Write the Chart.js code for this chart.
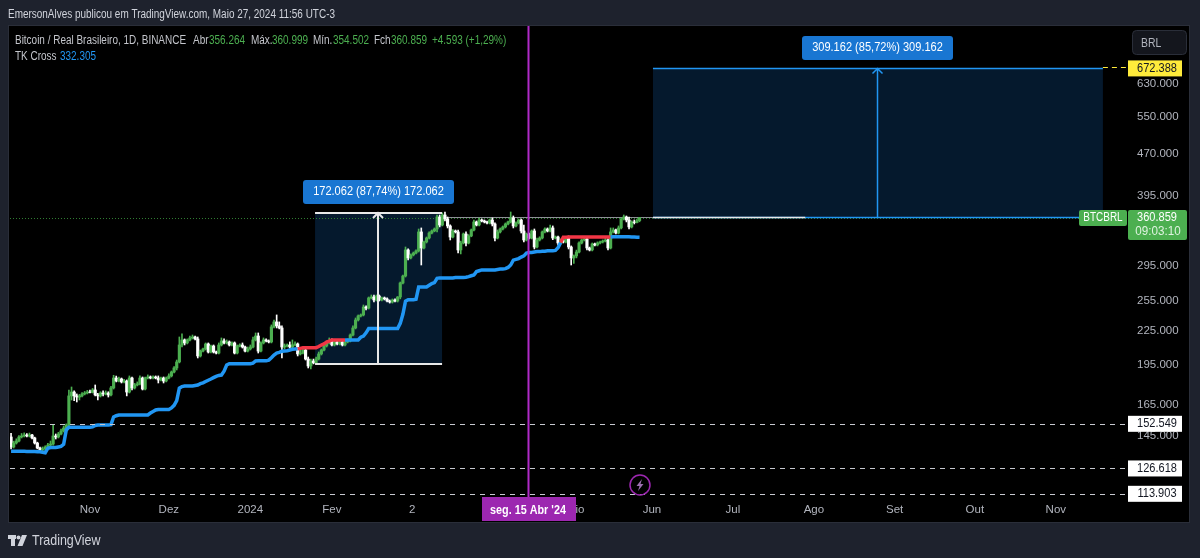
<!DOCTYPE html>
<html>
<head>
<meta charset="utf-8">
<title>BTCBRL</title>
<style>
html, body { margin: 0; padding: 0; background: #1e222d; overflow: hidden; }
</style>
<script src="https://cdn.jsdelivr.net/npm/chart.js@4"></script>
</head>
<body>
<canvas id="btcChart" width="1200" height="558"></canvas>
<script>
// prices in thousands of BRL, one bar per day
var opens = [
    144.4,138.5,140.8,142.0,144.4,145.0,145.6,145.0,145.6,143.8,
    140.8,137.9,136.8,137.4,138.5,139.6,140.2,145.0,144.4,146.2,
    148.1,149.9,151.8,171.4,174.2,171.4,170.6,171.4,172.8,173.5,
    174.2,174.0,175.7,172.1,171.4,173.5,172.8,173.5,172.1,177.2,
    184.7,182.4,184.0,181.7,182.4,174.2,184.7,177.2,179.4,180.2,
    184.7,176.4,184.7,185.5,184.7,185.5,184.7,183.2,184.7,182.4,
    184.7,186.3,189.4,192.6,197.5,212.0,216.5,213.8,216.5,218.3,
    219.2,217.4,202.5,206.7,208.5,212.9,205.9,211.1,205.9,205.0,
    212.0,215.6,213.8,214.7,212.0,213.8,205.0,211.1,212.0,210.2,
    206.7,208.5,210.2,216.5,220.1,206.7,213.8,216.5,215.6,214.7,
    228.6,233.4,229.6,227.6,210.2,211.1,212.0,210.2,212.0,212.9,
    204.2,205.0,207.6,199.9,194.2,198.3,196.7,199.9,204.2,207.6,
    211.1,213.8,215.6,212.0,214.7,212.9,214.7,212.0,214.7,215.6,
    221.0,227.6,235.3,239.3,240.3,248.4,247.3,258.0,259.0,255.8,
    260.1,255.8,258.0,256.9,254.7,253.6,255.8,254.7,259.0,274.6,
    282.7,315.2,304.9,308.7,311.2,313.9,339.8,317.8,325.9,331.3,
    338.3,341.2,344.0,361.7,349.8,364.7,358.7,348.4,332.7,341.2,
    339.8,315.2,324.5,336.9,324.5,334.1,342.6,354.3,349.8,357.2,
    355.7,354.3,352.8,357.2,351.3,331.3,339.8,344.0,347.0,351.3,
    354.3,360.2,348.4,352.8,357.2,341.2,328.6,336.9,331.3,341.2,
    319.1,328.6,331.3,339.8,344.0,341.2,345.5,331.3,332.7,324.5,
    328.6,325.9,331.3,319.1,304.9,307.4,312.5,324.5,328.6,330.0,
    317.8,315.2,323.2,321.8,324.5,325.9,327.2,328.6,317.8,339.8,
    342.6,338.3,345.5,358.7,361.7,357.2,347.0,354.3,353.5,356.264
]
var closes = [
    138.5,140.8,142.0,144.4,145.0,145.6,145.0,145.6,143.8,140.8,
    137.9,136.8,137.4,138.5,139.6,140.2,145.0,144.4,146.2,148.1,
    149.9,151.8,171.4,174.2,171.4,170.6,171.4,172.8,173.5,174.2,
    174.0,175.7,172.1,171.4,173.5,172.8,173.5,172.1,177.2,184.7,
    182.4,184.0,181.7,182.4,174.2,184.7,177.2,179.4,180.2,184.7,
    176.4,184.7,185.5,184.7,185.5,184.7,183.2,184.7,182.4,184.7,
    186.3,189.4,192.6,197.5,212.0,216.5,213.8,216.5,218.3,219.2,
    217.4,202.5,206.7,208.5,212.9,205.9,211.1,205.9,205.0,212.0,
    215.6,213.8,214.7,212.0,213.8,205.0,211.1,212.0,210.2,206.7,
    208.5,210.2,216.5,220.1,206.7,213.8,216.5,215.6,214.7,228.6,
    233.4,229.6,227.6,210.2,211.1,212.0,210.2,212.0,212.9,204.2,
    205.0,207.6,199.9,194.2,198.3,196.7,199.9,204.2,207.6,211.1,
    213.8,215.6,212.0,214.7,212.9,214.7,212.0,214.7,215.6,221.0,
    227.6,235.3,239.3,240.3,248.4,247.3,258.0,259.0,255.8,260.1,
    255.8,258.0,256.9,254.7,253.6,255.8,254.7,259.0,274.6,282.7,
    315.2,304.9,308.7,311.2,313.9,339.8,317.8,325.9,331.3,338.3,
    341.2,344.0,361.7,349.8,364.7,358.7,348.4,332.7,341.2,339.8,
    315.2,324.5,336.9,324.5,334.1,342.6,354.3,349.8,357.2,355.7,
    354.3,352.8,357.2,351.3,331.3,339.8,344.0,347.0,351.3,354.3,
    360.2,348.4,352.8,357.2,341.2,328.6,336.9,331.3,341.2,319.1,
    328.6,331.3,339.8,344.0,341.2,345.5,331.3,332.7,324.5,328.6,
    325.9,331.3,319.1,304.9,307.4,312.5,324.5,328.6,330.0,317.8,
    315.2,323.2,321.8,324.5,325.9,327.2,328.6,317.8,339.8,342.6,
    338.3,345.5,358.7,361.7,357.2,347.0,354.3,353.5,356.264,360.859
]
var highs = [
    146.6,141.9,143.3,145.2,146.5,146.9,146.4,146.8,146.0,144.3,
    141.3,138.5,138.5,139.2,140.6,142.0,151.8,146.2,147.2,149.3,
    151.2,152.5,175.7,177.9,175.0,172.8,172.5,173.8,174.6,175.4,
    175.6,176.8,179.4,173.2,174.4,175.0,175.0,174.4,178.4,186.8,
    186.2,185.5,184.7,183.6,183.2,186.3,185.5,180.6,181.7,186.3,
    185.5,185.5,187.1,186.3,186.3,186.3,186.3,185.5,185.5,185.5,
    187.9,190.2,193.8,199.1,219.2,222.0,217.4,217.4,220.1,221.0,
    220.1,219.2,207.6,209.3,213.8,213.8,212.0,212.0,206.7,213.8,
    218.3,217.4,216.5,215.6,214.7,214.7,212.0,212.9,213.8,211.1,
    210.2,212.0,219.2,222.9,222.9,214.7,218.3,217.4,216.5,230.5,
    235.3,240.3,233.4,229.6,212.9,212.9,214.7,216.5,214.7,213.8,
    207.6,208.5,208.5,201.6,199.9,199.9,201.6,205.9,208.5,212.0,
    215.6,218.3,217.4,215.6,216.5,216.5,215.6,216.5,217.4,222.0,
    229.6,237.3,240.3,241.3,250.5,249.5,259.0,261.2,261.2,261.2,
    261.2,259.0,259.0,258.0,255.8,256.9,256.9,259.5,275.7,283.9,
    319.1,316.5,310.0,312.5,315.2,344.0,345.5,327.2,332.7,340.0,
    342.6,345.5,364.7,364.7,367.8,369.3,361.7,350.0,343.0,342.6,
    342.6,327.0,338.3,339.8,336.0,344.0,357.2,355.7,360.2,358.7,
    357.2,355.7,358.7,360.2,352.8,342.6,345.5,348.4,352.8,355.7,
    369.3,363.2,354.3,358.7,358.7,349.8,338.3,338.3,342.6,344.0,
    331.3,333.0,341.2,345.5,345.5,349.8,348.4,334.1,334.1,330.0,
    330.0,333.0,334.1,320.5,308.7,315.0,326.0,330.0,333.0,333.0,
    319.0,324.5,324.5,326.0,327.2,328.6,331.3,330.0,345.5,345.5,
    344.0,348.4,360.2,364.7,363.2,361.7,356.0,357.2,358.7,360.999
]
var lows = [
    137.4,137.9,140.2,141.4,143.8,144.4,144.4,144.4,143.2,140.2,
    137.4,135.6,136.2,136.8,137.9,139.1,139.6,143.2,143.8,145.6,
    147.4,149.3,151.2,168.5,168.0,167.1,168.5,170.6,172.1,172.8,
    173.5,173.5,171.4,168.5,170.6,171.4,172.1,170.6,171.4,176.4,
    181.7,181.7,180.9,180.9,171.4,173.5,175.7,176.4,178.7,179.4,
    175.7,175.7,184.0,184.0,184.0,184.0,180.9,182.4,180.9,181.7,
    184.0,185.5,188.6,191.0,196.7,210.2,212.0,212.9,215.6,217.4,
    216.5,200.8,201.6,205.9,207.6,205.0,205.0,205.0,204.2,204.2,
    211.1,212.9,212.9,211.1,211.1,204.2,204.2,210.2,209.3,205.9,
    205.9,207.6,209.3,215.6,205.0,205.9,212.9,214.7,213.8,213.8,
    227.6,227.6,226.7,200.8,208.5,210.2,209.3,209.3,211.1,202.5,
    203.3,204.2,199.1,192.6,191.8,195.9,195.9,199.1,203.3,206.7,
    210.2,212.9,211.1,211.1,212.0,212.0,211.1,211.1,213.8,214.7,
    220.1,226.7,234.3,238.3,239.3,245.3,246.3,257.0,253.6,254.7,
    254.7,254.7,255.8,253.6,252.5,252.5,253.6,253.6,257.0,273.4,
    281.5,302.3,303.6,307.4,310.0,312.5,296.0,316.5,324.5,330.0,
    337.0,340.0,339.8,347.0,348.4,355.7,345.5,328.6,331.3,338.3,
    311.2,310.0,323.2,320.5,323.2,333.0,341.2,348.4,348.4,354.3,
    352.8,351.3,351.3,348.4,327.2,330.0,338.3,342.6,345.5,349.8,
    352.8,345.5,347.0,351.3,338.3,325.9,327.2,330.0,330.0,316.5,
    317.8,327.2,330.0,338.3,339.8,339.8,329.0,330.0,321.8,323.2,
    324.5,324.5,316.5,296.0,298.0,304.9,311.2,323.2,327.2,315.2,
    313.9,313.9,320.5,320.5,323.2,324.5,325.9,315.2,316.5,338.3,
    336.9,337.0,344.0,357.2,354.3,344.0,345.5,351.3,352.8,354.502
]
var tkCross = [
    136.0,136.0,136.0,136.0,136.0,136.0,135.9,135.9,135.9,135.9,
    135.8,135.8,135.5,135.2,137.8,138.2,138.2,138.2,138.5,138.8,
    140.0,148.7,150.4,150.4,150.4,150.4,150.4,150.4,150.4,150.4,
    150.4,150.6,151.5,151.8,151.8,151.8,151.8,151.8,152.0,157.0,
    157.8,158.3,158.3,158.3,158.3,158.3,158.3,158.3,158.3,158.3,
    158.3,158.3,158.3,159.6,160.6,161.6,162.0,162.0,162.0,162.0,
    162.0,163.0,164.8,168.0,177.0,178.2,178.6,178.6,178.6,178.6,
    179.0,179.4,180.4,181.0,182.0,183.0,183.9,185.0,186.0,186.7,
    187.0,190.0,195.0,196.0,196.0,196.0,196.0,196.0,196.0,196.0,
    196.0,196.0,196.5,198.3,198.4,198.4,198.4,198.4,199.0,201.0,
    203.3,205.0,205.5,206.5,206.8,207.0,207.6,208.2,208.4,208.6,
    209.0,209.6,209.6,209.6,209.6,209.6,209.6,210.6,212.0,213.0,
    214.6,215.5,216.5,216.5,216.5,216.5,216.5,216.5,216.5,216.5,
    216.5,216.5,216.5,219.0,220.0,223.0,227.0,227.0,227.0,227.0,
    227.0,227.0,227.0,227.0,227.0,227.0,227.0,227.0,232.0,241.0,
    254.5,256.0,256.0,256.0,256.5,270.0,270.0,270.0,270.0,272.0,
    274.0,275.0,280.0,280.5,280.5,280.5,280.5,280.5,280.5,281.0,
    281.0,281.0,281.0,281.2,282.0,283.0,283.9,288.0,289.0,290.0,
    290.0,290.0,290.0,290.0,290.0,290.5,291.0,291.0,291.5,293.0,
    296.0,302.0,303.0,304.0,306.0,307.5,311.0,312.0,312.0,312.5,
    313.0,313.0,313.5,313.5,314.0,314.0,314.0,314.5,318.0,325.0,
    332.5,332.5,332.7,332.7,332.7,332.7,332.7,332.7,332.7,332.7,
    332.7,332.7,332.7,332.7,332.7,332.7,332.7,332.7,332.8,333.0,
    333.0,333.0,333.0,333.0,333.0,333.0,332.8,332.6,332.4,332.305
]
// days where the TK line turns red
var tkRedSpans = [[109, 127], [209, 228]]

var priceTicks = [630, 550, 470, 395, 295, 255, 225, 195, 165, 145]
var timeTicks = [30, 60, 91, 122, 152.5, 213.3, 243.7, 274.5, 305.3, 336, 366.5, 397.3]
var timeLabels = ['Nov', 'Dez', '2024', 'Fev', '2', 'Maio', 'Jun', 'Jul', 'Ago', 'Set', 'Out', 'Nov']

var dashedLevels = [152.549, 126.618, 113.903]
var lastPrice = 360.859
var targetPrice = 672.388
var crosshairDay = 196.7
// measure boxes: first day, last day, low, high
var pastBox = [115.6, 163.9, 195.9, 367.8]
var futureBox = [244.1, 415.2, 361.8, 672.388]
var whiteRayEndDay = 302

var GREEN = '#4caf50'
var WHITE = '#ffffff'
var BLUE = '#2196f3'
var PURPLE = '#9c27b0'
var FONT = '"Liberation Sans", sans-serif'
var NARROW = 0.83

var days = closes.map(function (c, i) { return i })

function isRed(day) {
    return tkRedSpans.some(function (s) { return day >= s[0] && day < s[1] })
}

// the reference face is condensed, so squeeze the text horizontally
function label(ctx, text, x, y, color, align, sx, font) {
    ctx.save()
    ctx.translate(x, y)
    ctx.scale(sx || NARROW, 1)
    ctx.fillStyle = color
    ctx.textAlign = align || 'left'
    ctx.textBaseline = 'middle'
    ctx.font = font || '12px ' + FONT
    ctx.fillText(text, 0, 0)
    ctx.restore()
}

function hline(ctx, x0, x1, y, color, width, dash) {
    ctx.save()
    ctx.strokeStyle = color
    ctx.lineWidth = width
    ctx.setLineDash(dash || [])
    ctx.beginPath()
    ctx.moveTo(x0, y)
    ctx.lineTo(x1, y)
    ctx.stroke()
    ctx.restore()
}

function roundBox(ctx, x, y, w, h, r, fill) {
    ctx.fillStyle = fill
    ctx.beginPath()
    ctx.roundRect(x, y, w, h, r)
    ctx.fill()
}

function measureLines(chart, box, color, width) {
    var ctx = chart.ctx, xs = chart.scales.x, ys = chart.scales.y
    var snap = width % 2 ? 0.5 : 0
    var x0 = xs.getPixelForValue(box[0]), x1 = xs.getPixelForValue(box[1])
    var yLow = Math.round(ys.getPixelForValue(box[2])) + snap
    var yHigh = Math.round(ys.getPixelForValue(box[3])) + snap
    var mid = Math.floor((x0 + x1) / 2) + snap
    hline(ctx, x0, x1, yLow, color, width)
    hline(ctx, x0, x1, yHigh, color, width)
    ctx.strokeStyle = color
    ctx.lineWidth = width
    ctx.beginPath()
    ctx.moveTo(mid, yLow)
    ctx.lineTo(mid, yHigh)
    ctx.moveTo(mid - 5, yHigh + 5)
    ctx.lineTo(mid, yHigh)
    ctx.lineTo(mid + 5, yHigh + 5)
    ctx.stroke()
}

var tradingViewDecor = {
    id: 'tradingViewDecor',
    beforeDraw: function (chart) {
        var ctx = chart.ctx
        ctx.fillStyle = '#1e222d'
        ctx.fillRect(0, 0, 1200, 558)
        ctx.fillStyle = '#000000'
        ctx.fillRect(9, 26, 1180, 496)
        ctx.strokeStyle = '#2a2e39'
        ctx.lineWidth = 1
        ctx.strokeRect(8.5, 25.5, 1181, 497)
    },
    beforeDatasetsDraw: function (chart) {
        var ctx = chart.ctx, xs = chart.scales.x, ys = chart.scales.y
        ctx.fillStyle = '#05192d'
        ;[pastBox, futureBox].forEach(function (b) {
            var x0 = xs.getPixelForValue(b[0]), x1 = xs.getPixelForValue(b[1])
            var y1 = ys.getPixelForValue(b[3]), y0 = ys.getPixelForValue(b[2])
            ctx.fillRect(x0, y1, x1 - x0, y0 - y1)
        })
        // last price line and the ray from the previous high
        var rayY = Math.round(ys.getPixelForValue(futureBox[2])) + 0.5
        hline(ctx, xs.getPixelForValue(pastBox[1]), xs.getPixelForValue(futureBox[0]), rayY, '#8d8f96', 1)
        var lastY = rayY + 1
        hline(ctx, 10, 1080, lastY, '#2f7d32', 1, [1, 2])
    },
    afterDatasetsDraw: function (chart) {
        var ctx = chart.ctx, xs = chart.scales.x, ys = chart.scales.y
        measureLines(chart, pastBox, '#e8e8e8', 2)
        measureLines(chart, futureBox, BLUE, 1.5)
        var rayY = Math.round(ys.getPixelForValue(futureBox[2])) + 0.5
        hline(ctx, xs.getPixelForValue(futureBox[0]), xs.getPixelForValue(whiteRayEndDay), rayY, '#e8e8e8', 1.5)
        dashedLevels.forEach(function (v) {
            var y = Math.round(ys.getPixelForValue(v)) + 0.5
            hline(ctx, 10, 1128, y, '#c8cad0', 1, [5, 5])
        })
        var ty = Math.round(ys.getPixelForValue(targetPrice)) - 0.5
        hline(ctx, xs.getPixelForValue(futureBox[1]), 1128, ty, '#ffeb3b', 1, [5, 4])
        // crosshair
        var cx = Math.round(xs.getPixelForValue(crosshairDay)) + 0.5
        ctx.strokeStyle = '#b02ac8'
        ctx.lineWidth = 2
        ctx.beginPath()
        ctx.moveTo(cx, 26)
        ctx.lineTo(cx, 498)
        ctx.stroke()
        // lightning badge
        ctx.strokeStyle = '#9c27b0'
        ctx.lineWidth = 1.5
        ctx.beginPath()
        ctx.arc(640, 485, 10, 0, Math.PI * 2)
        ctx.stroke()
        ctx.fillStyle = '#9c6fb0'
        ctx.beginPath()
        ctx.moveTo(642, 479)
        ctx.lineTo(636.5, 486)
        ctx.lineTo(639.5, 486)
        ctx.lineTo(638, 491)
        ctx.lineTo(643.5, 484)
        ctx.lineTo(640.5, 484)
        ctx.closePath()
        ctx.fill()
    },
    afterDraw: function (chart) {
        var ctx = chart.ctx, ys = chart.scales.y
        // top title and legend
        label(ctx, 'EmersonAlves publicou em TradingView.com, Maio 27, 2024 11:56 UTC-3', 8, 14.5, '#d1d4dc')
        label(ctx, 'Bitcoin / Real Brasileiro, 1D, BINANCE', 15, 40.5, '#c4c6cc')
        label(ctx, 'Abr', 193, 40.5, '#c4c6cc')
        label(ctx, '356.264', 209, 40.5, GREEN)
        label(ctx, 'Máx.', 251, 40.5, '#c4c6cc')
        label(ctx, '360.999', 272, 40.5, GREEN)
        label(ctx, 'Mín.', 313, 40.5, '#c4c6cc')
        label(ctx, '354.502', 333, 40.5, GREEN)
        label(ctx, 'Fch', 374, 40.5, '#c4c6cc')
        label(ctx, '360.859', 391, 40.5, GREEN)
        label(ctx, '+4.593 (+1,29%)', 432, 40.5, GREEN)
        label(ctx, 'TK Cross', 15, 57, '#c4c6cc')
        label(ctx, '332.305', 60, 57, BLUE)
        // measure captions
        roundBox(ctx, 303, 180, 151, 24, 3, '#1976d2')
        label(ctx, '172.062 (87,74%) 172.062', 378.5, 192, WHITE, 'center', 0.92)
        roundBox(ctx, 802, 36, 151, 24, 3, '#1976d2')
        label(ctx, '309.162 (85,72%) 309.162', 877.5, 48, WHITE, 'center', 0.92)
        // BRL button
        ctx.fillStyle = '#14161d'
        ctx.strokeStyle = '#2a2e39'
        ctx.lineWidth = 1
        ctx.beginPath()
        ctx.roundRect(1132.5, 30.5, 54, 24, 4)
        ctx.fill()
        ctx.stroke()
        label(ctx, 'BRL', 1141, 43, '#b2b5be', 'left', 0.8, '13px ' + FONT)
        // price scale tags
        var ty = ys.getPixelForValue(targetPrice)
        ctx.fillStyle = '#ffeb3b'
        ctx.fillRect(1128, ty - 8, 54, 16)
        label(ctx, targetPrice.toFixed(3), 1157, ty, '#131722', 'center', 0.92)
        dashedLevels.forEach(function (v) {
            var y = ys.getPixelForValue(v)
            ctx.fillStyle = WHITE
            ctx.fillRect(1128, y - 8, 54, 16)
            label(ctx, v.toFixed(3), 1157, y, '#131722', 'center', 0.92)
        })
        var py = ys.getPixelForValue(lastPrice)
        roundBox(ctx, 1079, 210, 48, 16, 2, GREEN)
        label(ctx, 'BTCBRL', 1103, 218, WHITE, 'center')
        roundBox(ctx, 1128, 210, 59, 30, 2, GREEN)
        label(ctx, lastPrice.toFixed(3), 1157, py, WHITE, 'center', 0.92)
        label(ctx, '09:03:10', 1158, 232, '#dff3e0', 'center', 0.97)
        // crosshair time tag
        ctx.fillStyle = PURPLE
        ctx.fillRect(482, 497, 94, 24)
        label(ctx, "seg. 15 Abr '24", 528, 511, WHITE, 'center', 0.9, 'bold 12px ' + FONT)
        // logo
        ctx.fillStyle = '#d1d4dc'
        ctx.fillRect(8, 535, 8, 4)
        ctx.fillRect(11, 535, 4, 11)
        ctx.beginPath()
        ctx.arc(18.5, 537.5, 2, 0, Math.PI * 2)
        ctx.fill()
        ctx.beginPath()
        ctx.moveTo(22, 535)
        ctx.lineTo(27, 535)
        ctx.lineTo(22.5, 546)
        ctx.lineTo(17.5, 546)
        ctx.closePath()
        ctx.fill()
        label(ctx, 'TradingView', 32, 541, '#d1d4dc', 'left', NARROW, '15px ' + FONT)
    }
}

new Chart(document.getElementById('btcChart'), {
    type: 'bar',
    plugins: [tradingViewDecor],
    data: {
        datasets: [{
            type: 'line',
            label: 'TK Cross',
            data: days.map(function (d) { return { x: d, y: tkCross[d] } }),
            borderColor: BLUE,
            borderWidth: 3.5,
            pointRadius: 0,
            tension: 0,
            order: 1,
            segment: {
                borderColor: function (c) { return isRed(c.p0.parsed.x) ? '#f23645' : BLUE }
            }
        }, {
            label: 'bodies',
            data: days.map(function (d) { return { x: d, y: [opens[d], closes[d]] } }),
            backgroundColor: days.map(function (d) { return closes[d] >= opens[d] ? GREEN : WHITE }),
            barThickness: 2.5,
            grouped: false,
            order: 2
        }, {
            label: 'wicks',
            data: days.map(function (d) { return { x: d, y: [lows[d], highs[d]] } }),
            backgroundColor: days.map(function (d) { return closes[d] >= opens[d] ? GREEN : WHITE }),
            barThickness: 1,
            grouped: false,
            order: 3
        }]
    },
    options: {
        responsive: false,
        animation: false,
        layout: { padding: { left: 10, top: 26, right: 12, bottom: 37 } },
        plugins: {
            legend: { display: false },
            tooltip: { enabled: false }
        },
        scales: {
            x: {
                type: 'linear',
                offset: false,
                min: -0.4,
                max: 425.5,
                afterBuildTicks: function (scale) {
                    scale.ticks = timeTicks.map(function (v) { return { value: v } })
                },
                afterFit: function (scale) { scale.height = 24 },
                grid: { display: false, drawTicks: false },
                border: { display: false },
                ticks: {
                    autoSkip: false,
                    maxRotation: 0,
                    padding: 6,
                    color: '#b2b5be',
                    font: { family: FONT, size: 11.5 },
                    callback: function (v) { return timeLabels[timeTicks.indexOf(v)] }
                }
            },
            y: {
                type: 'logarithmic',
                position: 'right',
                min: 112.4,
                max: 802.6,
                afterBuildTicks: function (scale) {
                    scale.ticks = priceTicks.map(function (v) { return { value: v } })
                },
                afterFit: function (scale) { scale.width = 58 },
                grid: { display: false, drawTicks: false },
                border: { display: false },
                ticks: {
                    autoSkip: false,
                    padding: 7,
                    color: '#b2b5be',
                    font: { family: FONT, size: 11.5 },
                    callback: function (v) { return Number(v).toFixed(3) }
                }
            }
        }
    }
})
</script>
</body>
</html>
